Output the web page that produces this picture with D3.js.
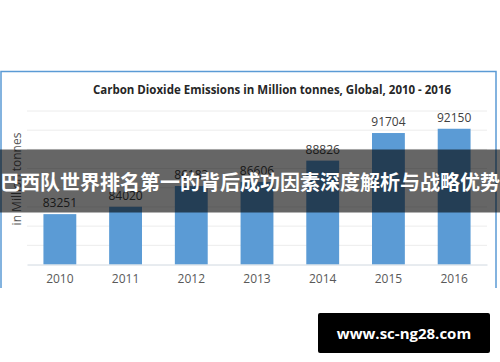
<!DOCTYPE html>
<html>
<head>
<meta charset="utf-8">
<script src="https://cdn.jsdelivr.net/npm/d3@7"></script>
<style>
  body { margin: 0; background: #fff; }
  svg { display: block; }
</style>
</head>
<body>
<div id="chart"></div>
<script>
const years = ["2010", "2011", "2012", "2013", "2014", "2015", "2016"];
const emissions = [83251, 84020, 86183, 86606, 88826, 91704, 92150];
const gridTicks = [78000, 80000, 82000, 84000, 86000, 88000, 90000, 92000, 94000];

const W = 500, H = 362;
const margin = { top: 111, right: 13, bottom: 97.5, left: 27 };
const width = W - margin.left - margin.right,
      height = H - margin.top - margin.bottom;

let svg = d3.select("#chart").append("svg")
    .attr("width", W)
    .attr("height", H);

// chart frame (bottom edge is cut off in the picture)
svg.append("path")
    .attr("d", "M1,288 V71.5 H496 V288")
    .attr("fill", "none")
    .attr("stroke", "#5b9bd5")
    .attr("stroke-width", 1.5);

svg.append("text")
    .attr("x", 272)
    .attr("y", 94)
    .attr("text-anchor", "middle")
    .attr("font-family", "Open Sans, sans-serif")
    .attr("font-weight", "bold")
    .attr("font-size", 11.5)
    .attr("fill", "#262626")
    .text("Carbon Dioxide Emissions in Million tonnes, Global, 2010 - 2016");

let g = svg.append("g")
    .attr("transform", "translate(" + margin.left + "," + margin.top + ")");

let x = d3.scaleBand()
    .range([0, width])
    .domain(years)
    .paddingInner(0.5)
    .paddingOuter(0.25);

let y = d3.scaleLinear()
    .range([height, 0])
    .domain([78000, 94000]);

// gridlines
g.append("g")
    .selectAll("line")
    .data(gridTicks.slice(1))
    .enter()
    .append("line")
    .attr("x1", 0)
    .attr("x2", width)
    .attr("y1", d => y(d))
    .attr("y2", d => y(d))
    .attr("stroke", "#ececec")
    .attr("stroke-width", 1);

let bars = g.selectAll(".bar")
    .data(years.map((yr, i) => [yr, emissions[i]]))
    .enter()
    .append("g");

bars.append("rect")
    .attr("class", "bar")
    .attr("x", d => x(d[0]))
    .attr("width", x.bandwidth())
    .attr("y", d => y(d[1]))
    .attr("height", d => height - y(d[1]))
    .attr("fill", "#5b9bd5");

bars.append("text")
    .attr("x", d => x(d[0]) + x.bandwidth() / 2)
    .attr("y", d => y(d[1]) - 7)
    .attr("text-anchor", "middle")
    .attr("font-family", "Open Sans, sans-serif")
    .attr("font-size", 12)
    .attr("fill", "#404040")
    .text(d => d[1]);

// category axis
let xAxis = g.append("g")
    .attr("transform", "translate(0," + height + ")")
    .call(d3.axisBottom(x).tickSize(0).tickPadding(10));
xAxis.select(".domain").attr("stroke", "#d0d8e0");
xAxis.selectAll("text")
    .attr("font-family", "Open Sans, sans-serif")
    .attr("font-size", 12)
    .attr("fill", "#595959");

svg.append("text")
    .attr("transform", "translate(21,179) rotate(-90)")
    .attr("text-anchor", "middle")
    .attr("font-family", "Open Sans, sans-serif")
    .attr("font-size", 12)
    .attr("fill", "#595959")
    .text("in Million tonnes");

// dark caption band
svg.append("rect")
    .attr("x", 0)
    .attr("y", 149.5)
    .attr("width", W)
    .attr("height", 63)
    .attr("fill", "rgba(0,0,0,0.6)");

svg.append("text")
    .attr("x", W / 2)
    .attr("y", 190)
    .attr("text-anchor", "middle")
    .attr("font-family", "Noto Sans CJK SC, sans-serif")
    .attr("font-weight", "bold")
    .attr("font-size", 20)
    .attr("fill", "#fff")
    .text("巴西队世界排名第一的背后成功因素深度解析与战略优势");

// watermark
svg.append("rect")
    .attr("x", 318)
    .attr("y", 313)
    .attr("width", 172)
    .attr("height", 40)
    .attr("rx", 2)
    .attr("fill", "#000");

svg.append("text")
    .attr("x", 404)
    .attr("y", 338.5)
    .attr("text-anchor", "middle")
    .attr("font-family", "Open Sans, sans-serif")
    .attr("font-weight", "bold")
    .attr("font-size", 15)
    .attr("fill", "#fff")
    .text("www.sc-ng28.com");
</script>
</body>
</html>
